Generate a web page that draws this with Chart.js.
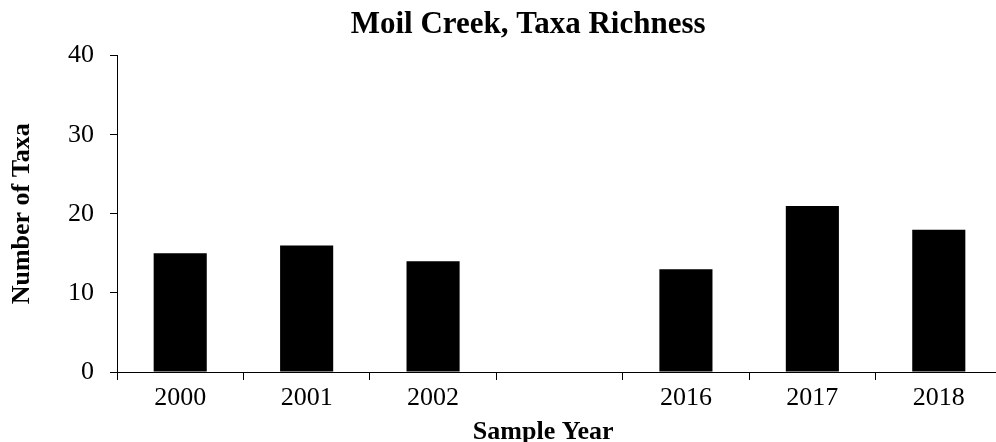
<!DOCTYPE html>
<html>
<head>
<meta charset="utf-8">
<script src="https://cdn.jsdelivr.net/npm/chart.js@4.4.0/dist/chart.umd.min.js"></script>
<style>
  html, body { margin: 0; padding: 0; background: #fff; overflow: hidden; }
  #wrap { width: 1002px; height: 442px; position: relative; }
</style>
</head>
<body>
<div id="wrap"><canvas id="taxaChart"></canvas></div>
<script>
// data
const years = ['2000', '2001', '2002', '', '2016', '2017', '2018'];
const taxaCount = [15, 16, 14, null, 13, 21, 18];
const yMin = 0, yMax = 40, yStep = 10;

const serif = "'Liberation Serif', 'Times New Roman', serif";

const chart = new Chart(document.getElementById('taxaChart'), {
  type: 'bar',
  data: {
    labels: years,
    datasets: [{
      label: 'Number of Taxa',
      data: taxaCount,
      backgroundColor: '#000',
      barPercentage: 0.42,
      categoryPercentage: 1
    }]
  },
  options: {
    responsive: true,
    maintainAspectRatio: false,
    animation: false,
    layout: { padding: 0 },
    plugins: {
      legend: { display: false },
      tooltip: { enabled: false },
      title: {
        display: true,
        // leading spaces nudge the title right, like the original
        text: '       Moil Creek, Taxa Richness',
        color: '#000',
        font: { family: serif, size: 31, weight: 'bold', lineHeight: 1.15 },
        padding: { top: 7, bottom: 13 }
      }
    },
    scales: {
      x: {
        grid: { offset: true, drawOnChartArea: false, drawTicks: true, tickLength: 8, color: '#000' },
        border: { color: '#000', width: 1 },
        ticks: { color: '#000', font: { family: serif, size: 26 }, padding: 3, maxRotation: 0 },
        title: {
          display: true,
          text: 'Sample Year     ',
          color: '#000',
          font: { family: serif, size: 26, weight: 'bold', lineHeight: 1 },
          padding: { top: 0, bottom: -3 }
        },
        afterFit: function(scale) { scale.height = 70; }
      },
      y: {
        min: yMin,
        max: yMax,
        grid: { drawOnChartArea: false, drawTicks: true, tickLength: 7, color: '#000' },
        border: { color: '#000', width: 1 },
        ticks: { stepSize: yStep, color: '#000', font: { family: serif, size: 26 }, padding: 16 },
        title: {
          display: true,
          text: 'Number of Taxa',
          color: '#000',
          font: { family: serif, size: 26, weight: 'bold' },
          padding: { top: 7, bottom: 0 }
        },
        afterFit: function(scale) { scale.width = 117; }
      }
    }
  }
});
</script>
</body>
</html>
